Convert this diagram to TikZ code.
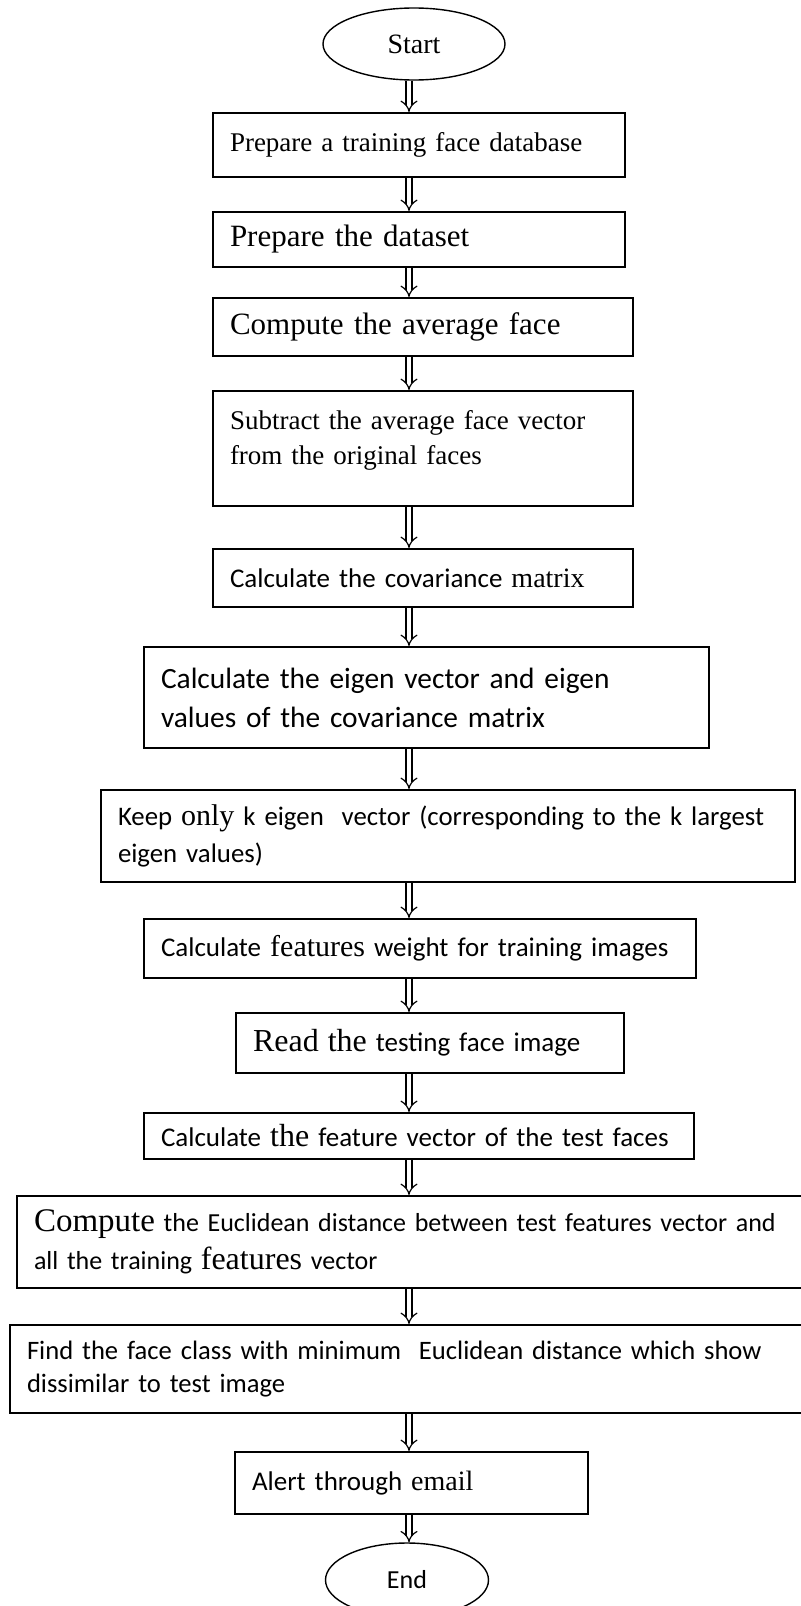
\documentclass[tikz,border=0pt]{standalone}
\usepackage{fontspec}
\setmainfont{Carlito}
\newfontfamily\tnr{Liberation Serif}
\usetikzlibrary{arrows.meta,shapes.geometric}
\newcommand{\tnrtext}[2]{{\tnr\fontsize{#1}{#1}\selectfont #2}}
\tikzset{
  stepbox/.style={draw, line width=1pt, rectangle, anchor=north west,
    inner xsep=8.5pt, inner ysep=0pt, align=left,
    font=\fontsize{13.5}{18.5}\selectfont},
  term/.style={draw, ellipse, line width=0.7pt, inner sep=0pt},
  flow/.style={double, double distance=2.4pt, line width=0.6pt, -{Implies}},
}

\begin{document}
\begin{tikzpicture}[x=0.5pt,y=-0.5pt]
  \useasboundingbox (0,0) rectangle (801,1606);
  \fill[white] (0,0) rectangle (801,1606);
  \clip (0,0) rectangle (801,1606);
  \coordinate (ax) at (409,0);

  \node[term, minimum width=91pt, minimum height=36pt, font=\tnr\fontsize{14}{16}\selectfont] (start) at (414,44) {Start};
  \node[stepbox, text width=189pt, minimum height=32pt, font=\tnr\fontsize{13.5}{16}\selectfont] (prep) at (212,112) {Prepare a training face database};
  \node[stepbox, text width=189pt, minimum height=27.5pt, font=\tnr\fontsize{15.5}{18}\selectfont] (data) at (212,211) {Prepare the dataset};
  \node[stepbox, text width=193pt, minimum height=29pt, font=\tnr\fontsize{15.5}{18}\selectfont] (avg) at (212,297) {Compute the average face};
  \node[stepbox, text width=193pt, minimum height=57.5pt, font=\tnr\fontsize{13.5}{17.5}\selectfont] (sub) at (212,390) {Subtract the average face vector\\from the original faces\\[-6pt]\mbox{}};
  \node[stepbox, text width=193pt, minimum height=29pt] (cov) at (212,548) {Calculate the covariance \tnrtext{14}{matrix}};
  \node[stepbox, text width=265.5pt, minimum height=50.5pt, font=\fontsize{14.7}{19.5}\selectfont] (eig) at (143,646) {\mbox{Calculate the eigen vector and eigen}\\values of the covariance matrix};
  \node[stepbox, text width=330pt, minimum height=46pt, font=\fontsize{13.4}{18.5}\selectfont] (keep) at (100,789) {\mbox{Keep \tnrtext{15}{only} k eigen\ \ vector (corresponding to the k largest}\\eigen values)};
  \node[stepbox, text width=259pt, minimum height=29.5pt] (wgt) at (143,918) {Calculate \tnrtext{15}{features} weight for training images};
  \node[stepbox, text width=177pt, minimum height=30pt] (read) at (235,1012) {\tnrtext{16}{Read the} testing face image};
  \node[stepbox, text width=258pt, minimum height=23pt] (feat) at (143,1112) {Calculate \tnrtext{16}{the} feature vector of the test faces};
  \node[stepbox, text width=377.5pt, minimum height=46pt, font=\fontsize{13}{19}\selectfont] (dist) at (16,1195) {\mbox{\tnrtext{16.5}{Compute} the Euclidean distance between test features vector and}\\all the training \tnrtext{16}{features} vector};
  \node[stepbox, text width=381pt, minimum height=44pt, font=\fontsize{13.3}{16.5}\selectfont] (cls) at (9,1324) {\mbox{Find the face class with minimum\ \ Euclidean distance which show}\\dissimilar to test image};
  \node[stepbox, text width=159.5pt, minimum height=31pt] (alert) at (234,1451) {Alert through \tnrtext{14}{email}};
  \node[term, minimum width=81.5pt, minimum height=37pt, font=\fontsize{13}{15}\selectfont] (stop) at (407,1580) {End};

  \draw[flow] (start.south -| ax) -- (prep.north -| ax);
  \draw[flow] (prep.south -| ax) -- (data.north -| ax);
  \draw[flow] (data.south -| ax) -- (avg.north -| ax);
  \draw[flow] (avg.south -| ax) -- (sub.north -| ax);
  \draw[flow] (sub.south -| ax) -- (cov.north -| ax);
  \draw[flow] (cov.south -| ax) -- (eig.north -| ax);
  \draw[flow] (eig.south -| ax) -- (keep.north -| ax);
  \draw[flow] (keep.south -| ax) -- (wgt.north -| ax);
  \draw[flow] (wgt.south -| ax) -- (read.north -| ax);
  \draw[flow] (read.south -| ax) -- (feat.north -| ax);
  \draw[flow] (feat.south -| ax) -- (dist.north -| ax);
  \draw[flow] (dist.south -| ax) -- (cls.north -| ax);
  \draw[flow] (cls.south -| ax) -- (alert.north -| ax);
  \draw[flow] (alert.south -| ax) -- (stop.north -| ax);
\end{tikzpicture}
\end{document}
